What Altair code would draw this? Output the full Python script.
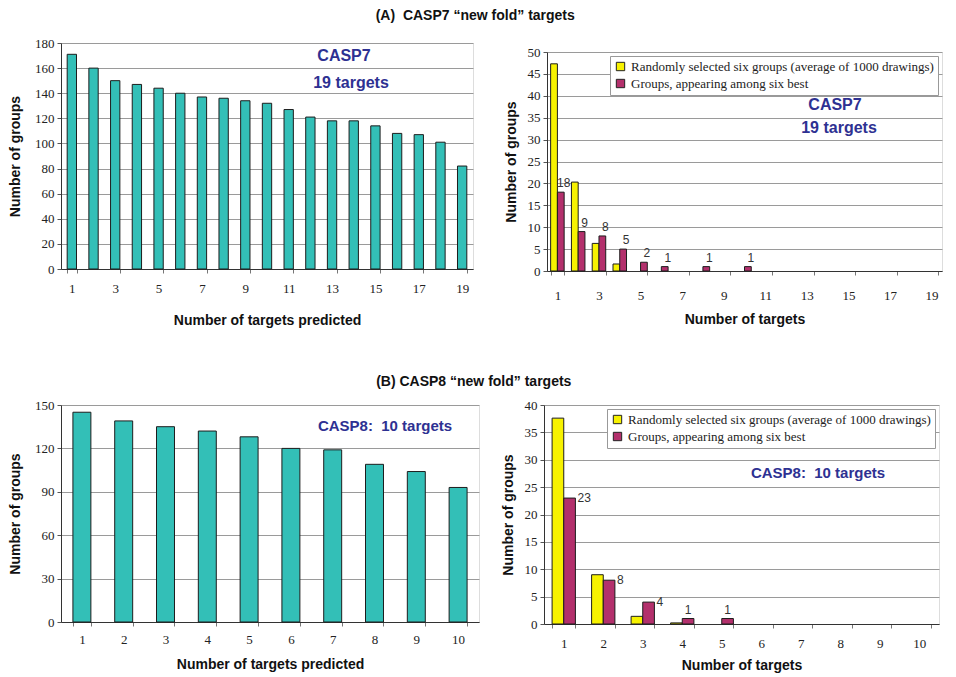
import altair as alt
import pandas as pd

# ---------------- data ----------------
RAND = "Randomly selected six groups (average of 1000 drawings)"
BEST = "Groups, appearing among six best"

# (A) CASP7 left: number of groups that predicted >= n targets
a_targets = list(range(1, 20))
a_groups = [171, 160, 150, 147, 144, 140, 137, 136, 134, 132, 127, 121, 118, 118, 114, 108, 107, 101, 82]

# (A) CASP7 right
a_dist_targets = list(range(1, 20))
a_random = [47.3, 20.3, 6.3, 1.6, 0, 0, 0, 0, 0, 0, 0, 0, 0, 0, 0, 0, 0, 0, 0]
a_best = [18, 9, 8, 5, 2, 1, 0, 1, 0, 1, 0, 0, 0, 0, 0, 0, 0, 0, 0]

# (B) CASP8 left
b_targets = list(range(1, 11))
b_groups = [145, 139, 135, 132, 128, 120, 119, 109, 104, 93]

# (B) CASP8 right
b_dist_targets = list(range(1, 11))
b_random = [37.6, 9.0, 1.4, 0.2, 0, 0, 0, 0, 0, 0]
b_best = [23, 8, 4, 1, 1, 0, 0, 0, 0, 0]

a_xlabels = [1, 3, 5, 7, 9, 11, 13, 15, 17, 19]
b_xlabels = list(range(1, 11))

# ---------------- style ----------------
TEAL = "#33BFB7"
YELLOW = "#F7F200"
MAGENTA = "#B3306C"
BLUE = "#2E3192"
SERIF = "Liberation Serif"
SANS = "Liberation Sans"


def y_axis(step, top, tpad, title="Number of groups"):
    return alt.Axis(
        values=list(range(0, top + 1, step)), title=title, grid=True,
        gridColor="#9a9a9a", gridWidth=1, domainColor="#333", tickColor="#555",
        tickSize=4, labelFont=SERIF, labelFontSize=13, labelColor="#222",
        labelPadding=3, titleFont=SANS, titleFontSize=14, titleFontWeight="bold",
        titleColor="#111", titlePadding=tpad)


def x_axis(values, title, label_pad, title_pad):
    return alt.Axis(
        values=values, title=title, labelAngle=0, grid=False, tickBand="extent",
        domainColor="#333", tickColor="#777", tickSize=4, labelFont=SERIF,
        labelFontSize=13, labelColor="#222", labelPadding=label_pad,
        titleFont=SANS, titleFontSize=14, titleFontWeight="bold", titleColor="#111",
        titlePadding=title_pad)


def note(text, px, py, size):
    return alt.Chart(pd.DataFrame({"t": [text]})).mark_text(
        font=SANS, fontSize=size, fontWeight="bold", color=BLUE,
        align="center", baseline="middle").encode(
        text="t:N", x=alt.value(px), y=alt.value(py))


def count_panel(cats, vals, ymax, ystep, w, h, xvals, label_pad, title_pad, notes):
    df = pd.DataFrame({"n": cats, "g": vals})
    bars = alt.Chart(df).mark_bar(color=TEAL, stroke="#1d1d1d", strokeWidth=1).encode(
        x=alt.X("n:O", scale=alt.Scale(domain=cats, paddingInner=0.57, paddingOuter=0.285),
                axis=x_axis(xvals, "Number of targets predicted", label_pad, title_pad)),
        y=alt.Y("g:Q", scale=alt.Scale(domain=[0, ymax], nice=False),
                axis=y_axis(ystep, ymax, 12)),
    )
    return alt.layer(bars, *notes).properties(width=w, height=h)


def dist_panel(cats, rand, best, ymax, ystep, w, h, xvals, pad_in, label_pad,
               title_pad, notes, side_labels):
    df = pd.DataFrame({
        "n": cats + cats,
        "s": [RAND] * len(cats) + [BEST] * len(cats),
        "v": rand + best,
    })
    xs = alt.X("n:O", scale=alt.Scale(domain=cats, paddingInner=pad_in, paddingOuter=pad_in / 2),
               axis=x_axis(xvals, "Number of targets", label_pad, title_pad))
    xo = alt.XOffset("s:N", scale=alt.Scale(domain=[RAND, BEST], paddingInner=0, paddingOuter=0))
    ys = alt.Y("v:Q", scale=alt.Scale(domain=[0, ymax], nice=False), axis=y_axis(ystep, ymax, 9))
    bars = alt.Chart(df).transform_filter("datum.v > 0").mark_bar(
        stroke="#1d1d1d", strokeWidth=1).encode(
        x=xs, xOffset=xo, y=ys,
        color=alt.Color("s:N", scale=alt.Scale(domain=[RAND, BEST], range=[YELLOW, MAGENTA]),
                        legend=alt.Legend(
                            title=None, orient="top-right", offset=4, fillColor="white",
                            strokeColor="#999", padding=4, labelFont=SERIF, labelFontSize=13,
                            labelColor="#222", labelLimit=400, symbolType="square",
                            symbolSize=70, symbolStrokeColor="#222", symbolStrokeWidth=1,
                            rowPadding=3)),
    )
    lab_base = alt.Chart(df).transform_filter(
        alt.FieldEqualPredicate(field="s", equal=BEST)).transform_filter("datum.v > 0")
    text_style = dict(font=SANS, fontSize=12, color="#333")
    if side_labels:
        side = lab_base.transform_filter("datum.v > 1").mark_text(
            align="left", baseline="middle", dx=8, **text_style).encode(
            x=xs, xOffset=xo, y=ys, text="v:Q")
        top = lab_base.transform_filter("datum.v <= 1").mark_text(
            align="center", baseline="bottom", dy=-2, **text_style).encode(
            x=xs, xOffset=xo, y=ys, text="v:Q")
        layers = [bars, side, top]
    else:
        top = lab_base.mark_text(align="center", baseline="bottom", dx=3, dy=-2,
                                 **text_style).encode(x=xs, xOffset=xo, y=ys, text="v:Q")
        layers = [bars, top]
    return alt.layer(*layers, *notes).properties(width=w, height=h)


a_left = count_panel(a_targets, a_groups, 180, 20, 412, 226, a_xlabels, 9, 18,
                     [note("CASP7", 283, 13, 16), note("19 targets", 290, 40, 16)])
a_right = dist_panel(a_dist_targets, a_random, a_best, 50, 5, 395, 219, a_xlabels, 0.35,
                     14, 10, [note("CASP7", 288, 53, 16), note("19 targets", 292, 76, 16)],
                     side_labels=False)

# invisible spacer that pushes the right CASP7 panel a little lower than the left one
spacer = alt.Chart(pd.DataFrame({"t": [""]})).mark_text(fontSize=1).encode(text="t:N").properties(
    width=395, height=1, view=alt.ViewBackground(strokeOpacity=0))
a_right_col = alt.vconcat(spacer, a_right, spacing=1).resolve_scale(
    color="independent", xOffset="independent").resolve_legend(color="independent")

b_left = count_panel(b_targets, b_groups, 150, 30, 418, 217, b_xlabels, 7, 11,
                     [note("CASP8:\u00a0 10 targets", 324, 21, 15)])
b_right = dist_panel(b_dist_targets, b_random, b_best, 40, 5, 395, 219, b_xlabels, 0.41,
                     9, 8, [note("CASP8:\u00a0 10 targets", 274, 68, 15)],
                     side_labels=True)

title_style = dict(anchor="middle", font=SANS, fontSize=14, fontWeight="bold", color="#111")

row_a = alt.hconcat(a_left, a_right_col, spacing=29).properties(
    title=alt.TitleParams("(A)\u00a0 CASP7 \u201cnew fold\u201d targets", offset=14, **title_style)
).resolve_scale(color="independent", xOffset="independent").resolve_legend(color="independent")

row_b = alt.hconcat(b_left, b_right, spacing=20).properties(
    title=alt.TitleParams("(B) CASP8 \u201cnew fold\u201d targets", offset=10, **title_style)
).resolve_scale(color="independent", xOffset="independent").resolve_legend(color="independent")

chart = alt.vconcat(row_a, row_b, spacing=46).resolve_scale(
    color="independent", xOffset="independent").resolve_legend(color="independent").properties(
    padding=0).configure_view(stroke="#8a8a8a", strokeWidth=1.5).configure(background="white")

chart.save("out.html", embed_options={"renderer": "svg", "actions": False})
